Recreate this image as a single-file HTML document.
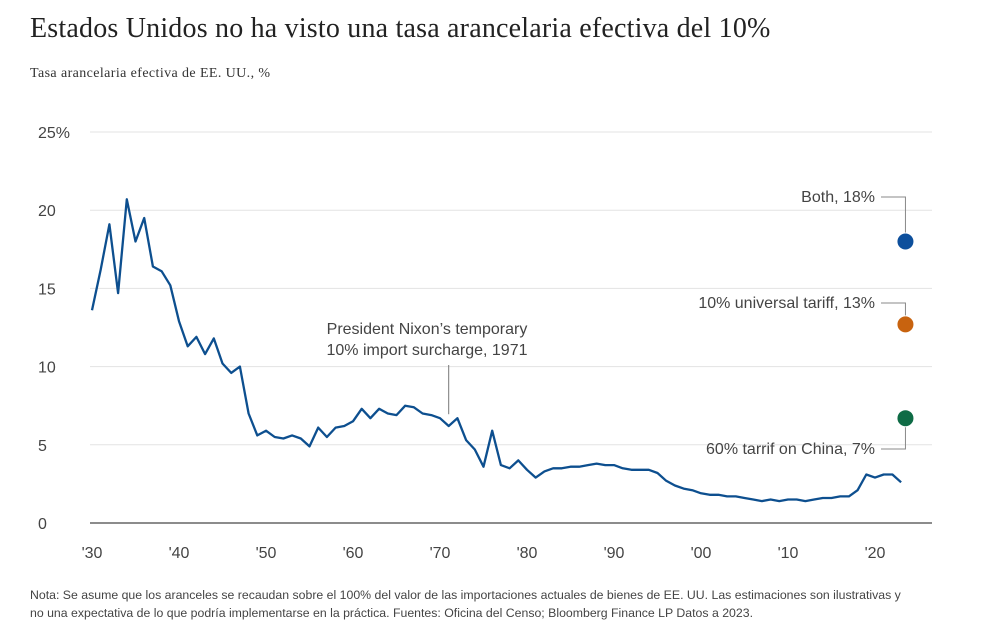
<!DOCTYPE html>
<html><head><meta charset="utf-8">
<style>
body{margin:0;background:#fff;width:997px;height:635px;overflow:hidden;font-family:"Liberation Sans",sans-serif;}
.title{position:absolute;left:30px;top:13px;font-family:"Liberation Serif",serif;font-size:28px;letter-spacing:0.2px;color:#222;white-space:nowrap;}
.sub{position:absolute;left:30px;top:66px;font-family:"Liberation Serif",serif;font-size:14px;letter-spacing:0.4px;color:#333;white-space:nowrap;}
.note{position:absolute;left:30px;top:586px;font-size:12.3px;color:#444;line-height:18px;white-space:nowrap;}
svg{position:absolute;left:0;top:0;}
</style></head><body>
<div class="title">Estados Unidos no ha visto una tasa arancelaria efectiva del 10%</div>
<div class="sub">Tasa arancelaria efectiva de EE. UU., %</div>
<svg id="chart" width="997" height="635"></svg>
<div class="note">Nota: Se asume que los aranceles se recaudan sobre el 100% del valor de las importaciones actuales de bienes de EE. UU. Las estimaciones son ilustrativas y<br>no una expectativa de lo que podría implementarse en la práctica. Fuentes: Oficina del Censo; Bloomberg Finance LP Datos a 2023.</div>
<script>
const startYear = 1930;
const rates = [13.6,16.2,19.1,14.7,20.7,18.0,19.5,16.4,16.1,15.2,12.9,11.3,11.9,10.8,11.8,10.2,9.6,10.0,7.0,5.6,5.9,5.5,5.4,5.6,5.4,4.9,6.1,5.5,6.1,6.2,6.5,7.3,6.7,7.3,7.0,6.9,7.5,7.4,7.0,6.9,6.7,6.2,6.7,5.3,4.7,3.6,5.9,3.7,3.5,4.0,3.4,2.9,3.3,3.5,3.5,3.6,3.6,3.7,3.8,3.7,3.7,3.5,3.4,3.4,3.4,3.2,2.7,2.4,2.2,2.1,1.9,1.8,1.8,1.7,1.7,1.6,1.5,1.4,1.5,1.4,1.5,1.5,1.4,1.5,1.6,1.6,1.7,1.7,2.1,3.1,2.9,3.1,3.1,2.6];
const yTicks = [0,5,10,15,20,25];
const yTickLabels = ["0","5","10","15","20","25%"];
const xTicks = [1930,1940,1950,1960,1970,1980,1990,2000,2010,2020];
const xTickLabels = ["'30","'40","'50","'60","'70","'80","'90","'00","'10","'20"];
const scenarioNames = ["Both, 18%","10% universal tariff, 13%","60% tarrif on China, 7%"];
const scenarioValues = [18,12.7,6.7];
const scenarioColors = ["#0d4f9c","#c8630f","#0e6b45"];
const scenarioYear = 2023.5;

const svg=document.getElementById('chart');
const NS='http://www.w3.org/2000/svg';
const x=y=>92+(y-1930)*8.7;
const yy=v=>523-v*15.64;
function mk(t,a){const e=document.createElementNS(NS,t);for(const k in a)e.setAttribute(k,a[k]);svg.appendChild(e);return e;}

yTicks.forEach((t,i)=>{
  if(t>0){const g=mk('line',{x1:90,x2:932,y1:yy(t),y2:yy(t),stroke:'#e3e3e3','stroke-width':1});
  
  }
  const l=mk('text',{x:38,y:yy(t)+6,'font-size':16,fill:'#444','font-family':'Liberation Sans,sans-serif'});
  l.textContent=yTickLabels[i];
  
  
});
const ax=mk('line',{x1:90,x2:932,y1:523,y2:523,stroke:'#666','stroke-width':1.5});


xTicks.forEach((t,i)=>{
  const l=mk('text',{x:x(t),y:558,'font-size':16,fill:'#444','text-anchor':'middle','font-family':'Liberation Sans,sans-serif'});
  l.textContent=xTickLabels[i];
  
  
});
const nx=mk('line',{x1:x(1971),x2:x(1971),y1:365,y2:yy(6.7)-4,stroke:'#777','stroke-width':1});


['President Nixon’s temporary','10% import surcharge, 1971'].forEach((s,i)=>{
  const t=mk('text',{x:427,y:334+i*21,'font-size':16,fill:'#444','text-anchor':'middle','font-family':'Liberation Sans,sans-serif'});
  t.textContent=s;
  
  
});
const d=rates.map((v,i)=>(i?'L':'M')+x(startYear+i).toFixed(1)+','+yy(v).toFixed(1)).join('');
const p=mk('path',{d:d,fill:'none',stroke:'#0d4f8f','stroke-width':2.3,'stroke-linejoin':'round'});



const labelY=[197,303,449];
scenarioValues.forEach((v,i)=>{
  const cx=x(scenarioYear),cy=yy(v);
  const tx=875;
  const ly=labelY[i];
  const t=mk('text',{x:tx,y:ly+5,'font-size':16,fill:'#444','text-anchor':'end','font-family':'Liberation Sans,sans-serif'});
  t.textContent=scenarioNames[i];
  
  
  const y2=ly<cy?cy-9:cy+9;
  const ln=mk('polyline',{points:`${tx+6},${ly} ${cx},${ly} ${cx},${y2}`,fill:'none',stroke:'#888','stroke-width':1});
  
  
  const c=mk('circle',{cx:cx,cy:cy,r:8,fill:scenarioColors[i]});
  
  
});
</script>
</body></html>
